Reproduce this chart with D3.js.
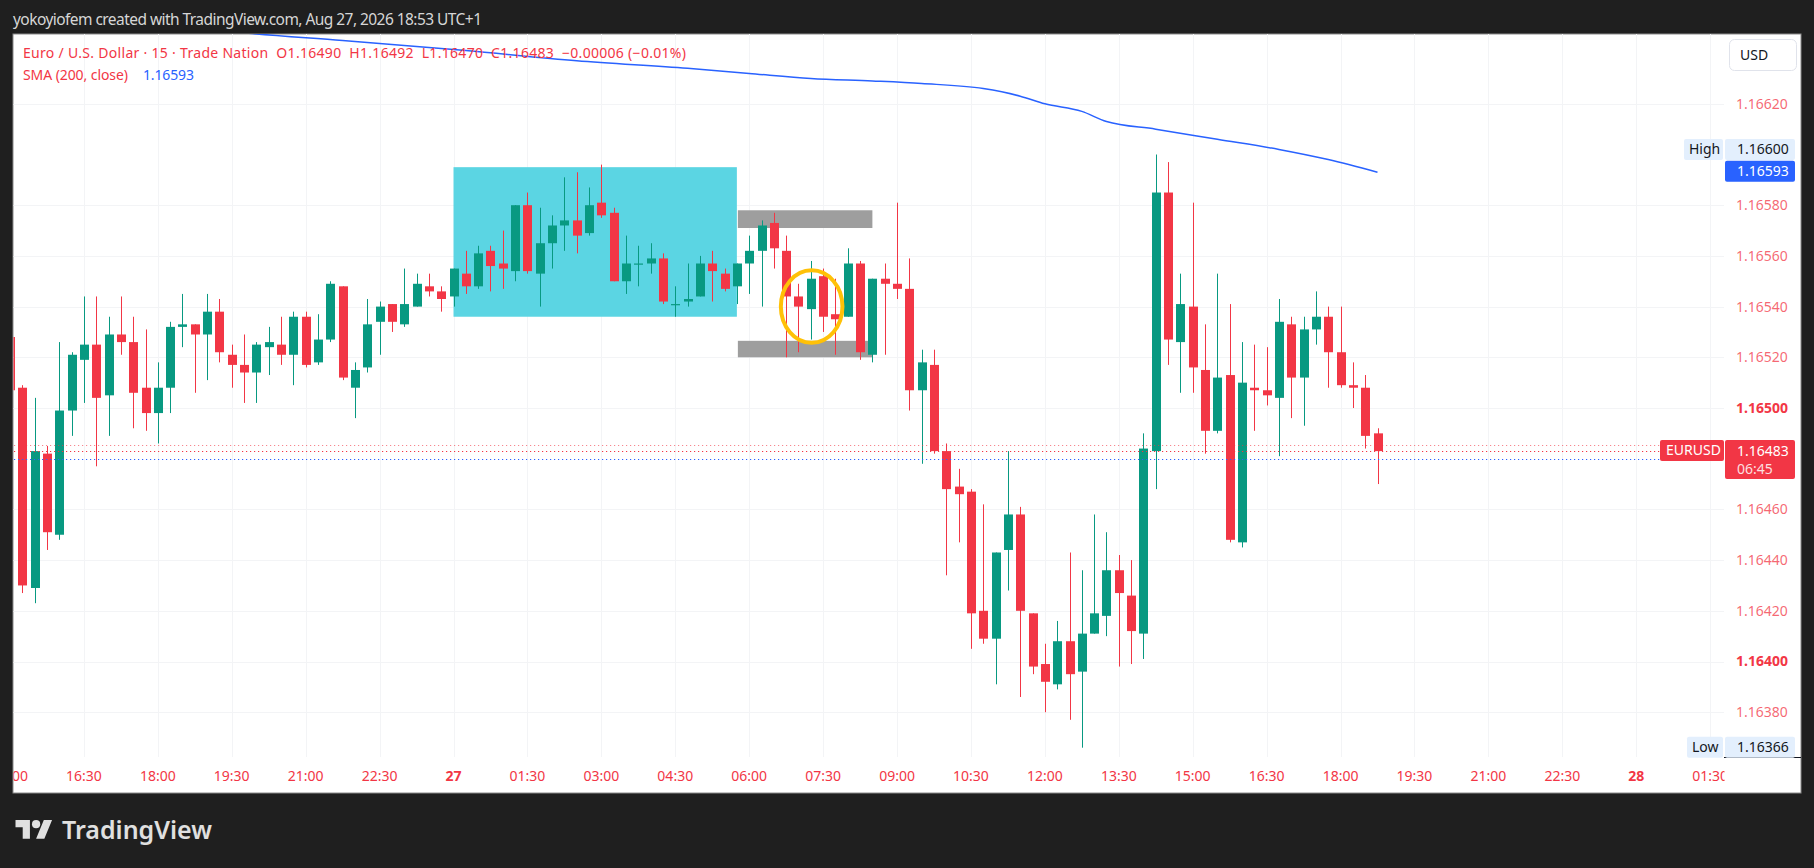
<!DOCTYPE html>
<html>
<head>
<meta charset="utf-8">
<script src="https://cdn.jsdelivr.net/npm/d3@7"></script>
<style>
  body { margin: 0; background: #1f1f1f; overflow: hidden; }
  text { font-family: "Noto Sans", sans-serif; }
</style>
</head>
<body>
<script>
// EURUSD 15m, one row per bar: [open, high, low, close], first bar 26 Aug 15:00
var ohlc = [
  [1.16528,1.16528,1.16507,1.16507],[1.16508,1.16509,1.16427,1.16430],[1.16429,1.16504,1.16423,1.16483],
  [1.16482,1.16485,1.16444,1.16451],[1.16450,1.16526,1.16448,1.16499],[1.16499,1.16522,1.16489,1.16521],
  [1.16519,1.16544,1.16502,1.16525],[1.16525,1.16544,1.16477,1.16504],[1.16505,1.16536,1.16489,1.16529],
  [1.16529,1.16544,1.16521,1.16526],[1.16526,1.16536,1.16492,1.16506],[1.16508,1.16531,1.16491,1.16498],
  [1.16498,1.16518,1.16486,1.16508],[1.16508,1.16534,1.16498,1.16532],[1.16532,1.16545,1.16524,1.16533],
  [1.16533,1.16533,1.16506,1.16529],[1.16529,1.16545,1.16511,1.16538],[1.16538,1.16543,1.16518,1.16522],
  [1.16521,1.16525,1.16508,1.16517],[1.16517,1.16529,1.16502,1.16514],[1.16514,1.16526,1.16502,1.16525],
  [1.16524,1.16532,1.16513,1.16526],[1.16525,1.16536,1.16517,1.16521],[1.16521,1.16538,1.16509,1.16536],
  [1.16536,1.16538,1.16516,1.16517],[1.16518,1.16537,1.16517,1.16527],[1.16527,1.16550,1.16526,1.16549],
  [1.16548,1.16548,1.16511,1.16512],[1.16508,1.16518,1.16496,1.16515],[1.16516,1.16543,1.16514,1.16533],
  [1.16534,1.16542,1.16521,1.16540],[1.16541,1.16541,1.16530,1.16534],[1.16533,1.16555,1.16532,1.16541],
  [1.16540,1.16553,1.16540,1.16549],[1.16548,1.16553,1.16544,1.16546],[1.16546,1.16548,1.16538,1.16543],
  [1.16544,1.16555,1.16540,1.16555],[1.16553,1.16562,1.16545,1.16548],[1.16548,1.16564,1.16547,1.16561],
  [1.16562,1.16564,1.16546,1.16556],[1.16557,1.16570,1.16547,1.16555],[1.16554,1.16580,1.16550,1.16580],
  [1.16580,1.16585,1.16553,1.16554],[1.16553,1.16579,1.16540,1.16565],[1.16565,1.16576,1.16555,1.16572],
  [1.16572,1.16591,1.16562,1.16574],[1.16574,1.16593,1.16561,1.16568],[1.16569,1.16587,1.16568,1.16580],
  [1.16581,1.16596,1.16575,1.16576],[1.16577,1.16579,1.16550,1.16550],[1.16550,1.16568,1.16545,1.16557],
  [1.16557,1.16564,1.16548,1.16557],[1.16557,1.16565,1.16553,1.16559],[1.16559,1.16561,1.16541,1.16542],
  [1.16541,1.16548,1.16536,1.16541],[1.16542,1.16557,1.16540,1.16543],[1.16544,1.16560,1.16544,1.16557],
  [1.16557,1.16562,1.16542,1.16554],[1.16553,1.16555,1.16546,1.16547],[1.16548,1.16557,1.16541,1.16557],
  [1.16557,1.16568,1.16545,1.16562],[1.16562,1.16574,1.16540,1.16572],[1.16573,1.16577,1.16555,1.16563],
  [1.16562,1.16568,1.16520,1.16544],[1.16544,1.16549,1.16522,1.16540],[1.16539,1.16558,1.16527,1.16551],
  [1.16552,1.16555,1.16530,1.16536],[1.16537,1.16551,1.16521,1.16535],[1.16536,1.16563,1.16536,1.16557],
  [1.16557,1.16558,1.16519,1.16522],[1.16521,1.16551,1.16518,1.16551],[1.16551,1.16557,1.16521,1.16549],
  [1.16549,1.16581,1.16543,1.16547],[1.16547,1.16559,1.16499,1.16507],[1.16507,1.16523,1.16478,1.16518],
  [1.16517,1.16523,1.16482,1.16483],[1.16483,1.16486,1.16434,1.16468],[1.16469,1.16476,1.16447,1.16466],
  [1.16467,1.16468,1.16405,1.16419],[1.16420,1.16462,1.16407,1.16409],[1.16409,1.16443,1.16391,1.16443],
  [1.16444,1.16483,1.16428,1.16458],[1.16458,1.16461,1.16386,1.16420],[1.16419,1.16419,1.16395,1.16398],
  [1.16399,1.16407,1.16380,1.16392],[1.16391,1.16416,1.16389,1.16408],[1.16408,1.16443,1.16377,1.16395],
  [1.16396,1.16436,1.16366,1.16411],[1.16411,1.16458,1.16411,1.16419],[1.16418,1.16451,1.16410,1.16436],
  [1.16436,1.16442,1.16398,1.16427],[1.16426,1.16440,1.16399,1.16412],[1.16411,1.16490,1.16401,1.16484],
  [1.16483,1.16600,1.16468,1.16585],[1.16585,1.16597,1.16517,1.16527],[1.16526,1.16553,1.16506,1.16541],
  [1.16540,1.16581,1.16506,1.16516],[1.16515,1.16533,1.16482,1.16491],[1.16491,1.16553,1.16490,1.16512],
  [1.16513,1.16541,1.16447,1.16448],[1.16447,1.16526,1.16445,1.16510],[1.16508,1.16525,1.16491,1.16507],
  [1.16507,1.16524,1.16501,1.16505],[1.16504,1.16543,1.16481,1.16534],[1.16533,1.16536,1.16496,1.16512],
  [1.16512,1.16536,1.16493,1.16531],[1.16531,1.16546,1.16525,1.16536],[1.16536,1.16540,1.16508,1.16522],
  [1.16522,1.16540,1.16508,1.16509],[1.16509,1.16518,1.16500,1.16508],[1.16508,1.16513,1.16484,1.16489],
  [1.16490,1.16492,1.16470,1.16483]
];

// SMA(200) read at a few bars: [bar, value]
var smaPoints = [
  [15,1.16650],[19,1.16648],[27,1.16645],[37,1.16641],[46,1.16637],[55,1.16634],[60,1.16632],
  [65,1.16630],[70,1.16629],[74,1.16628],[79,1.16626],[82,1.16623],[84,1.16620],[87,1.16617],
  [89,1.16613],[93,1.16610],[98,1.16606],[103,1.16602],[107,1.16598],[111,1.16593]
];

// one label every 6 bars starting at bar 0
var timeLabels = ["15:00","16:30","18:00","19:30","21:00","22:30","27","01:30","03:00","04:30",
  "06:00","07:30","09:00","10:30","12:00","13:30","15:00","16:30","18:00","19:30","21:00","22:30","28","01:30"];
var boldTimeLabels = ["27","28"];

var priceTicks = [1.1662, 1.1658, 1.1656, 1.1654, 1.1652, 1.165, 1.1646, 1.1644, 1.1642, 1.164, 1.1638];
var boldPriceTicks = [1.165, 1.164];

var lastPrice = 1.16483, highPrice = 1.16600, lowPrice = 1.16366, smaLast = 1.16593;
var priceLines = [[1.164855, "#f23645", 0.6], [1.16483, "#f23645", 1], [1.16480, "#2962ff", 1]];

// drawings: [bar0, bar1, price0, price1]
var cyanBox = [36, 59, 1.16595, 1.16536];
var greyBoxes = [[59, 70, 1.16578, 1.16571], [59, 70, 1.165265, 1.16520]];
var ellipseMark = [65.07, 1.16540, 2.5, 0.000143];

var headerText = "yokoyiofem created with TradingView.com, Aug 27, 2026 18:53 UTC+1";
var legendText = "Euro / U.S. Dollar \u00b7 15 \u00b7 Trade Nation  O1.16490  H1.16492  L1.16470  C1.16483  \u22120.00006 (\u22120.01%)";

var green = "#089981", red = "#f23645", blue = "#2962ff";
var W = 1814, H = 868;
var fr = {x0: 13, y0: 34, x1: 1801, y1: 793};
var plotR = 1724, plotB = 757;

var x = d3.scaleLinear().domain([0, 111]).range([10, 1377.5]);
var y = d3.scaleLinear().domain([1.1638, 1.1662]).range([712.2, 103.8]);

var svg = d3.select("body").append("svg").attr("width", W).attr("height", H);

svg.append("rect").attr("x", fr.x0).attr("y", fr.y0).attr("width", fr.x1 - fr.x0).attr("height", fr.y1 - fr.y0)
  .attr("fill", "#fff").attr("stroke", "#8a8a8a").attr("stroke-width", 1);

var defs = svg.append("defs");
defs.append("clipPath").attr("id", "plotClip").append("rect")
  .attr("x", fr.x0 + 0.5).attr("y", fr.y0).attr("width", plotR - fr.x0).attr("height", plotB - fr.y0);
defs.append("clipPath").attr("id", "timeClip").append("rect")
  .attr("x", fr.x0 + 0.5).attr("y", plotB).attr("width", plotR - fr.x0).attr("height", fr.y1 - plotB);

var plot = svg.append("g").attr("clip-path", "url(#plotClip)");

// grid
plot.selectAll(".vgrid").data(timeLabels).enter().append("line")
  .attr("x1", function(d, i) { return Math.round(x(i * 6)) + 0.5; })
  .attr("x2", function(d, i) { return Math.round(x(i * 6)) + 0.5; })
  .attr("y1", fr.y0).attr("y2", plotB).attr("stroke", "#f3f4f6");
plot.selectAll(".hgrid").data(priceTicks).enter().append("line")
  .attr("x1", fr.x0).attr("x2", plotR)
  .attr("y1", function(d) { return Math.round(y(d)) + 0.5; })
  .attr("y2", function(d) { return Math.round(y(d)) + 0.5; })
  .attr("stroke", "#f3f4f6");

// drawings behind candles
plot.append("rect").attr("x", x(cyanBox[0])).attr("width", x(cyanBox[1]) - x(cyanBox[0]))
  .attr("y", y(cyanBox[2])).attr("height", y(cyanBox[3]) - y(cyanBox[2])).attr("fill", "#5bd5e3");
plot.selectAll(".grey").data(greyBoxes).enter().append("rect")
  .attr("x", function(d) { return x(d[0]) + 1; })
  .attr("width", function(d) { return x(d[1]) - x(d[0]) - 1; })
  .attr("y", function(d) { return y(d[2]); })
  .attr("height", function(d) { return y(d[3]) - y(d[2]); })
  .attr("fill", "#9e9e9e");

// candles
var bw = 9;
var candle = plot.selectAll(".candle").data(ohlc).enter().append("g");
candle.append("line")
  .attr("x1", function(d, i) { return Math.round(x(i)) + 0.5; })
  .attr("x2", function(d, i) { return Math.round(x(i)) + 0.5; })
  .attr("y1", function(d) { return y(d[1]); })
  .attr("y2", function(d) { return y(d[2]); })
  .attr("stroke", function(d) { return d[3] >= d[0] ? green : red; })
  .attr("stroke-width", 1);
candle.append("rect")
  .attr("x", function(d, i) { return Math.round(x(i)) + 0.5 - bw / 2; })
  .attr("width", bw)
  .attr("y", function(d) { return y(Math.max(d[0], d[3])); })
  .attr("height", function(d) { return Math.max(1.2, Math.abs(y(d[0]) - y(d[3]))); })
  .attr("fill", function(d) { return d[3] >= d[0] ? green : red; });

// SMA
plot.append("path").datum(smaPoints)
  .attr("d", d3.line().x(function(d) { return x(d[0]); }).y(function(d) { return y(d[1]); }).curve(d3.curveMonotoneX))
  .attr("fill", "none").attr("stroke", blue).attr("stroke-width", 1.5);

// price lines
svg.selectAll(".pline").data(priceLines).enter().append("line")
  .attr("x1", fr.x0 + 1).attr("x2", 1660)
  .attr("y1", function(d) { return Math.round(y(d[0])) + 0.5; })
  .attr("y2", function(d) { return Math.round(y(d[0])) + 0.5; })
  .attr("stroke", function(d) { return d[1]; })
  .attr("stroke-opacity", function(d) { return d[2]; })
  .attr("stroke-dasharray", "1.2,2.8");

// circled candles
plot.append("ellipse").attr("cx", x(ellipseMark[0])).attr("cy", y(ellipseMark[1]))
  .attr("rx", x(ellipseMark[2]) - x(0))
  .attr("ry", y(ellipseMark[1] - ellipseMark[3]) - y(ellipseMark[1]))
  .attr("fill", "none").attr("stroke", "#ffc107").attr("stroke-width", 4);

// legend
svg.append("text").attr("x", 23).attr("y", 53).attr("dy", "0.35em").attr("font-size", 14)
  .attr("fill", red).style("white-space", "pre").attr("textLength", 663).attr("lengthAdjust", "spacing")
  .text(legendText);
svg.append("text").attr("x", 23).attr("y", 75).attr("dy", "0.35em").attr("font-size", 14)
  .attr("fill", red).attr("textLength", 105).attr("lengthAdjust", "spacing").text("SMA (200, close)");
svg.append("text").attr("x", 143).attr("y", 75).attr("dy", "0.35em").attr("font-size", 14)
  .attr("fill", blue).attr("textLength", 51).attr("lengthAdjust", "spacing").text(smaLast.toFixed(5));

// price axis
svg.selectAll(".ptick").data(priceTicks).enter().append("text")
  .attr("x", 1736).attr("y", function(d) { return y(d); }).attr("dy", "0.35em")
  .attr("font-size", 14)
  .attr("font-weight", function(d) { return boldPriceTicks.indexOf(d) >= 0 ? 700 : 400; })
  .attr("fill", red)
  .attr("fill-opacity", function(d) { return boldPriceTicks.indexOf(d) >= 0 ? 1 : 0.75; })
  .text(function(d) { return d.toFixed(5); });

svg.append("line").attr("x1", plotR).attr("x2", fr.x1).attr("y1", plotB + 0.5).attr("y2", plotB + 0.5)
  .attr("stroke", "#131722");

// time axis
svg.append("g").attr("clip-path", "url(#timeClip)")
  .selectAll("text").data(timeLabels).enter().append("text")
  .attr("x", function(d, i) { return x(i * 6); }).attr("y", 776).attr("dy", "0.35em")
  .attr("text-anchor", "middle").attr("font-size", 14)
  .attr("font-weight", function(d) { return boldTimeLabels.indexOf(d) >= 0 ? 700 : 400; })
  .attr("fill", red)
  .text(function(d) { return d; });

// axis labels on the right
function tag(x0, w, yc, h, fill, txt, color, tx) {
  svg.append("rect").attr("x", x0).attr("y", yc - h / 2).attr("width", w).attr("height", h)
    .attr("rx", 2).attr("fill", fill);
  svg.append("text").attr("x", tx).attr("y", yc).attr("dy", "0.35em").attr("font-size", 14)
    .attr("fill", color).text(txt);
}
tag(1684, 39, y(highPrice) - 5, 21, "#e3effd", "High", "#131722", 1689);
tag(1725, 70, y(highPrice) - 5, 21, "#e3effd", highPrice.toFixed(5), "#131722", 1737);
tag(1725, 70, y(smaLast) - 1, 21, blue, smaLast.toFixed(5), "#fff", 1737);
tag(1687, 36, y(lowPrice) - 0.5, 21, "#e3effd", "Low", "#131722", 1692);
tag(1725, 70, y(lowPrice) - 0.5, 21, "#e3effd", lowPrice.toFixed(5), "#131722", 1737);
tag(1660, 64, y(lastPrice) - 0.5, 21, red, "EURUSD", "#fff", 1666);
svg.append("rect").attr("x", 1725).attr("y", y(lastPrice) - 11).attr("width", 70).attr("height", 39)
  .attr("rx", 2).attr("fill", red);
svg.append("text").attr("x", 1737).attr("y", y(lastPrice)).attr("dy", "0.35em").attr("font-size", 14)
  .attr("fill", "#fff").text(lastPrice.toFixed(5));
svg.append("text").attr("x", 1737).attr("y", y(lastPrice) + 18).attr("dy", "0.35em").attr("font-size", 14)
  .attr("fill", "#fff").attr("fill-opacity", 0.85).text("06:45");

// currency button
svg.append("rect").attr("x", 1729.5).attr("y", 39.5).attr("width", 67).attr("height", 31).attr("rx", 5)
  .attr("fill", "#fff").attr("stroke", "#e0e3eb");
svg.append("text").attr("x", 1740).attr("y", 55).attr("dy", "0.35em").attr("font-size", 14)
  .attr("fill", "#131722").text("USD");

// header and watermark
svg.append("text").attr("x", 13).attr("y", 20).attr("dy", "0.35em").attr("font-size", 15.5)
  .attr("fill", "#d6d6d6").attr("textLength", 469).attr("lengthAdjust", "spacing").text(headerText);

var logo = svg.append("g").attr("transform", "translate(15.5,816) scale(1.03)").attr("fill", "#e0e0e0");
logo.append("path").attr("d", "M14 22H7V11H0V4h14v18zM28 22h-8l7.5-18h8L28 22z");
logo.append("circle").attr("cx", 20).attr("cy", 8).attr("r", 4);
svg.append("text").attr("x", 62).attr("y", 838.5).attr("font-size", 24.5).attr("font-weight", 600)
  .attr("fill", "#e0e0e0").attr("textLength", 150).attr("lengthAdjust", "spacingAndGlyphs").text("TradingView");
</script>
</body>
</html>
